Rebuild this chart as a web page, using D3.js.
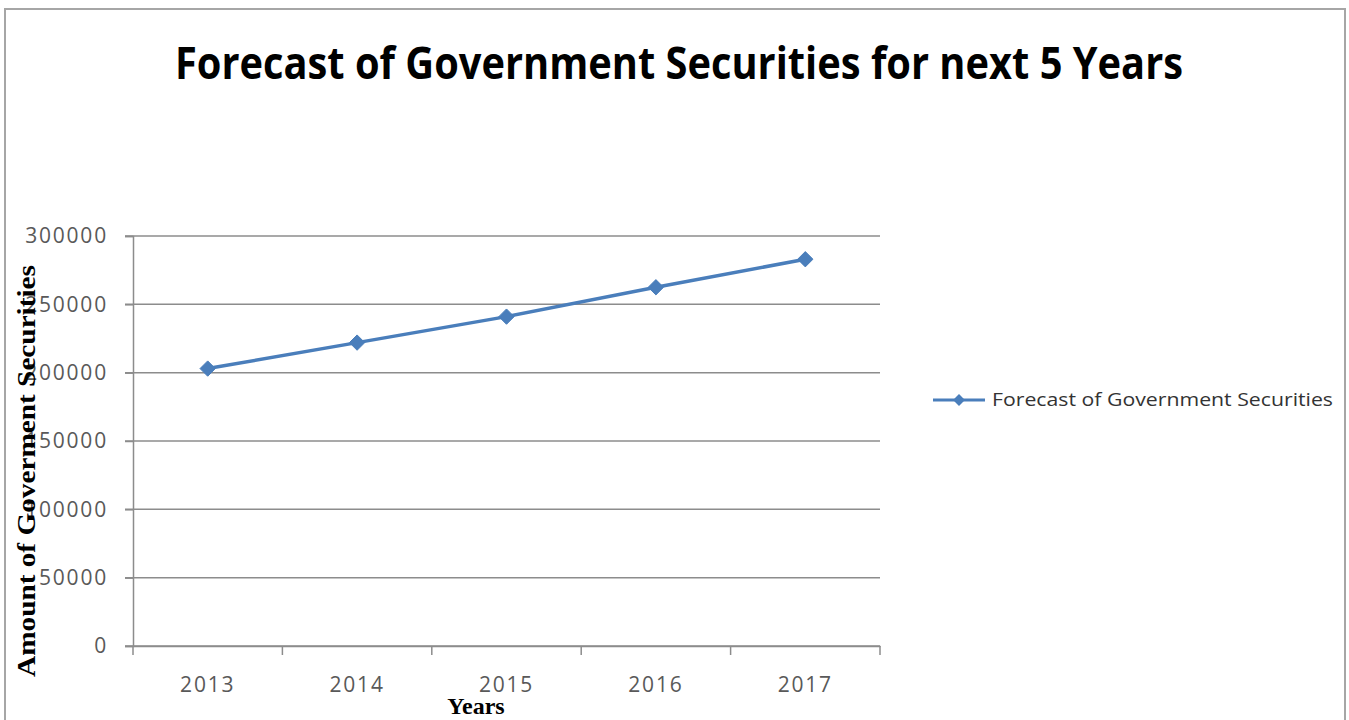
<!DOCTYPE html>
<html>
<head>
<meta charset="utf-8">
<script src="https://cdn.jsdelivr.net/npm/d3@7"></script>
<style>
  body { margin: 0; background: #fff; }
  svg { display: block; }
</style>
</head>
<body>
<div id="chart"></div>
<script>
const years = ['2013', '2014', '2015', '2016', '2017'];
const forecast = [203000, 222000, 241000, 262500, 283000];
const yTicks = [0, 50000, 100000, 150000, 200000, 250000, 300000];
const chartTitle = 'Forecast of Government Securities for next 5 Years';
const seriesName = 'Forecast of Government Securities';
const yTitle = 'Amount of Goverment Securities';
const xTitle = 'Years';

const width = 1349;
const height = 720;
const lineColor = '#4a7ebb';
const gridColor = '#8c8c8c';

const svg = d3.select('#chart').append('svg')
  .attr('width', width)
  .attr('height', height);

// outer frame
svg.append('rect')
  .attr('x', 5)
  .attr('y', 9)
  .attr('width', 1340)
  .attr('height', 720)
  .attr('fill', '#fff')
  .attr('stroke', '#a6a6a6')
  .attr('stroke-width', 2);

const x = d3.scaleBand()
  .domain(years)
  .range([133, 880]);

const y = d3.scaleLinear()
  .domain([0, 300000])
  .range([646, 236]);

// gridlines
svg.append('g')
  .selectAll('line')
  .data(yTicks)
  .enter()
  .append('line')
  .attr('x1', 125)
  .attr('x2', 880)
  .attr('y1', d => y(d))
  .attr('y2', d => y(d))
  .attr('stroke', gridColor)
  .attr('stroke-width', 1.5);

// y axis
const yAxis = svg.append('g')
  .attr('transform', 'translate(133,0)')
  .call(d3.axisLeft(y).tickValues(yTicks).tickSize(8).tickPadding(17).tickFormat(d => d));
yAxis.select('.domain').attr('stroke', gridColor).attr('stroke-width', 1.5);
yAxis.selectAll('.tick line').attr('stroke', gridColor).attr('stroke-width', 1.5);
yAxis.selectAll('.tick text')
  .attr('font-family', 'Open Sans')
  .attr('font-size', '21px')
  .attr('letter-spacing', '1.8px')
  .attr('fill', '#595959');

// x axis
const xAxis = svg.append('g')
  .attr('transform', 'translate(0,646)')
  .call(d3.axisBottom(x).tickSize(0).tickPadding(31));
xAxis.select('.domain').attr('stroke', gridColor).attr('stroke-width', 1.5);
xAxis.selectAll('.tick text')
  .attr('font-family', 'Open Sans')
  .attr('font-size', '21px')
  .attr('letter-spacing', '1.8px')
  .attr('fill', '#595959');

// category boundary ticks
svg.append('g')
  .selectAll('line')
  .data(years.map(d => x(d)).concat([x.range()[1]]))
  .enter()
  .append('line')
  .attr('x1', d => d)
  .attr('x2', d => d)
  .attr('y1', 646)
  .attr('y2', 655)
  .attr('stroke', gridColor)
  .attr('stroke-width', 1.5);

// series line
const line = d3.line()
  .x((d, i) => x(years[i]) + x.bandwidth() / 2)
  .y(d => y(d));

svg.append('path')
  .datum(forecast)
  .attr('d', line)
  .attr('fill', 'none')
  .attr('stroke', lineColor)
  .attr('stroke-width', 3.5);

const diamond = d3.symbol().type(d3.symbolDiamond2).size(150);

svg.append('g')
  .selectAll('path')
  .data(forecast)
  .enter()
  .append('path')
  .attr('d', diamond)
  .attr('transform', (d, i) => `translate(${x(years[i]) + x.bandwidth() / 2},${y(d)})`)
  .attr('fill', lineColor)
  .attr('stroke', lineColor)
  .attr('stroke-width', 1);

// title
svg.append('text')
  .attr('x', 679)
  .attr('y', 79)
  .attr('text-anchor', 'middle')
  .attr('font-family', 'Open Sans')
  .attr('font-weight', 'bold')
  .attr('font-size', '44px')
  .attr('textLength', 1008)
  .attr('lengthAdjust', 'spacingAndGlyphs')
  .attr('fill', '#000')
  .text(chartTitle);

// y title
svg.append('text')
  .attr('transform', 'translate(35,471) rotate(-90)')
  .attr('text-anchor', 'middle')
  .attr('font-family', 'Liberation Serif')
  .attr('font-weight', 'bold')
  .attr('font-size', '25px')
  .attr('textLength', 412)
  .attr('lengthAdjust', 'spacingAndGlyphs')
  .attr('fill', '#000')
  .text(yTitle);

// x title
svg.append('text')
  .attr('x', 476)
  .attr('y', 714)
  .attr('text-anchor', 'middle')
  .attr('font-family', 'Liberation Serif')
  .attr('font-weight', 'bold')
  .attr('font-size', '24px')
  .attr('fill', '#000')
  .text(xTitle);

// legend
const legend = svg.append('g').attr('transform', 'translate(933,400)');
legend.append('line')
  .attr('x1', 0)
  .attr('x2', 52)
  .attr('stroke', lineColor)
  .attr('stroke-width', 3);
legend.append('path')
  .attr('d', d3.symbol().type(d3.symbolDiamond2).size(90))
  .attr('transform', 'translate(26,0)')
  .attr('fill', lineColor);
legend.append('text')
  .attr('x', 59)
  .attr('y', 0)
  .attr('dy', '0.35em')
  .attr('font-family', 'Open Sans')
  .attr('font-size', '18px')
  .attr('textLength', 341)
  .attr('lengthAdjust', 'spacingAndGlyphs')
  .attr('fill', '#333')
  .text(seriesName);
</script>
</body>
</html>
